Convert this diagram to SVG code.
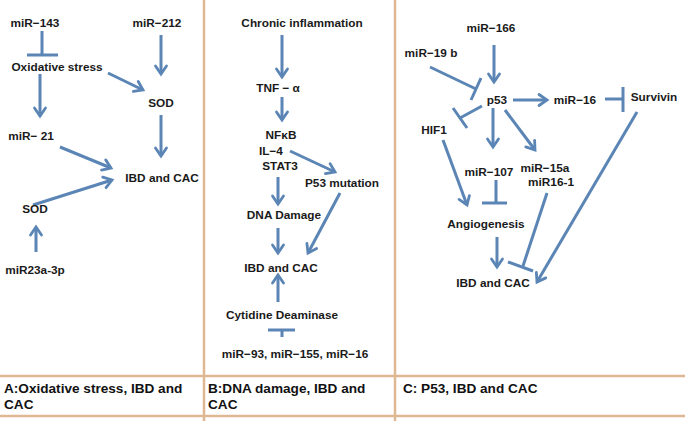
<svg xmlns="http://www.w3.org/2000/svg" width="685" height="421" viewBox="0 0 685 421">
<style>
.t{font-family:"Liberation Sans",Arial,sans-serif;font-weight:bold;font-size:11.8px;fill:#1a1a1a;text-anchor:middle}
.s{text-anchor:start}
.cap{font-family:"Liberation Sans",Arial,sans-serif;font-weight:bold;font-size:13.6px;fill:#111}
.c{stroke:#5b85b5;stroke-width:3;fill:none;stroke-linecap:butt}
.a{marker-end:url(#arr)}
.f{stroke:#dfb793;stroke-width:2.5;fill:none}
</style>
<defs>
<marker id="arr" viewBox="0 0 12 12" refX="10" refY="6" markerWidth="12" markerHeight="12" orient="auto" markerUnits="userSpaceOnUse" overflow="visible">
<path d="M2,0.5 L10,6 L2,11.5" fill="none" stroke="#5b85b5" stroke-width="2.8" stroke-linecap="round" stroke-linejoin="miter"/>
</marker>
</defs>
<rect width="685" height="421" fill="#fff"/>
<g id="frame">
<line class="f" x1="204" y1="0" x2="204" y2="421"/>
<line class="f" x1="395" y1="0" x2="395" y2="421"/>
<line class="f" x1="0" y1="376" x2="685" y2="376"/>
<line class="f" x1="0" y1="416" x2="685" y2="416"/>
</g>
<g id="connectors">
<line class="c" x1="42" y1="31" x2="42" y2="55"/><line class="c" x1="27" y1="55" x2="58" y2="55"/>
<line class="c a" x1="161" y1="35" x2="161" y2="74"/>
<line class="c a" x1="108" y1="73" x2="143" y2="90"/>
<line class="c a" x1="161" y1="115" x2="161" y2="156"/>
<line class="c a" x1="40" y1="74" x2="40" y2="116"/>
<line class="c a" x1="60" y1="147" x2="111" y2="168"/>
<line class="c a" x1="33" y1="205" x2="112" y2="180"/>
<line class="c a" x1="36" y1="252" x2="36" y2="227"/>

<line class="c a" x1="282" y1="35" x2="282" y2="77"/>
<line class="c a" x1="282" y1="97" x2="282" y2="120"/>
<line class="c a" x1="290" y1="151" x2="335" y2="172"/>
<line class="c a" x1="278" y1="177" x2="278" y2="204"/>
<line class="c a" x1="340" y1="193" x2="308" y2="253"/>
<line class="c a" x1="278" y1="228" x2="278" y2="253"/>
<line class="c a" x1="278" y1="302" x2="278" y2="275"/>
<line class="c" x1="282" y1="337" x2="282" y2="330"/><line class="c" x1="268" y1="330" x2="295" y2="330"/>

<line class="c a" x1="494" y1="45" x2="494" y2="82"/>
<line class="c" x1="430" y1="67" x2="476" y2="89"/><line class="c" x1="481" y1="78" x2="471" y2="100"/>
<line class="c a" x1="513" y1="100" x2="547" y2="100"/>
<line class="c" x1="605" y1="99" x2="623" y2="99"/><line class="c" x1="623" y1="87" x2="623" y2="112"/>
<line class="c" x1="482" y1="106" x2="460" y2="118"/><line class="c" x1="453" y1="108" x2="467" y2="128"/>
<line class="c a" x1="443" y1="140" x2="467" y2="205"/>
<line class="c a" x1="493" y1="108" x2="493" y2="147"/>
<line class="c a" x1="505" y1="110" x2="535" y2="150"/>
<line class="c" x1="496" y1="180" x2="496" y2="203"/><line class="c" x1="482" y1="203" x2="507" y2="203"/>
<line class="c a" x1="497" y1="237" x2="497" y2="267"/>
<line class="c" x1="547" y1="193" x2="523" y2="266"/><line class="c" x1="508" y1="262" x2="533" y2="271"/>
<line class="c a" x1="637" y1="112" x2="537" y2="282"/>
</g>
<g id="A_miR143"><text class="t" x="35" y="27">miR−143</text></g>
<g id="A_miR212"><text class="t" x="157" y="27">miR−212</text></g>
<g id="A_oxstress"><text class="t" x="57" y="71">Oxidative stress</text></g>
<g id="A_SOD1"><text class="t" x="161" y="107">SOD</text></g>
<g id="A_miR21"><text class="t" x="31" y="140">miR− 21</text></g>
<g id="A_IBD"><text class="t" x="162" y="182">IBD and CAC</text></g>
<g id="A_SOD2"><text class="t" x="35" y="213">SOD</text></g>
<g id="A_miR23a"><text class="t" x="35" y="274">miR23a-3p</text></g>

<g id="B_chronic"><text class="t" x="302" y="27">Chronic inflammation</text></g>
<g id="B_TNF"><text class="t" x="278" y="92">TNF − α</text></g>
<g id="B_NFkB"><text class="t" x="281" y="139">NFκB</text></g>
<g id="B_IL4"><text class="t s" x="259" y="155">IL−4</text></g>
<g id="B_STAT3"><text class="t" x="280" y="170">STAT3</text></g>
<g id="B_P53mut"><text class="t" x="342" y="187">P53 mutation</text></g>
<g id="B_DNA"><text class="t" x="284" y="219">DNA Damage</text></g>
<g id="B_IBD"><text class="t" x="281" y="272">IBD and CAC</text></g>
<g id="B_cytidine"><text class="t" x="282" y="319">Cytidine Deaminase</text></g>
<g id="B_miRs"><text class="t" x="295" y="358">miR−93, miR−155, miR−16</text></g>

<g id="C_miR166"><text class="t" x="491" y="32">miR−166</text></g>
<g id="C_miR19b"><text class="t" x="431" y="57">miR−19 b</text></g>
<g id="C_p53"><text class="t" x="497" y="104">p53</text></g>
<g id="C_miR16"><text class="t" x="575" y="104">miR−16</text></g>
<g id="C_survivin"><text class="t" x="654" y="101">Survivin</text></g>
<g id="C_HIF1"><text class="t" x="434" y="134">HIF1</text></g>
<g id="C_miR107"><text class="t" x="489" y="176">miR−107</text></g>
<g id="C_miR15a"><text class="t" x="545" y="172">miR−15a</text><text class="t" x="551" y="186">miR16-1</text></g>
<g id="C_angio"><text class="t" x="486" y="228">Angiogenesis</text></g>
<g id="C_IBD"><text class="t" x="493" y="287">IBD and CAC</text></g>

<g id="captions">
<text class="cap" x="4" y="393">A:Oxidative stress, IBD and</text>
<text class="cap" x="4" y="409">CAC</text>
<text class="cap" x="208" y="393">B:DNA damage, IBD and</text>
<text class="cap" x="208" y="409">CAC</text>
<text class="cap" x="403" y="393">C: P53, IBD and CAC</text>
</g>
</svg>
